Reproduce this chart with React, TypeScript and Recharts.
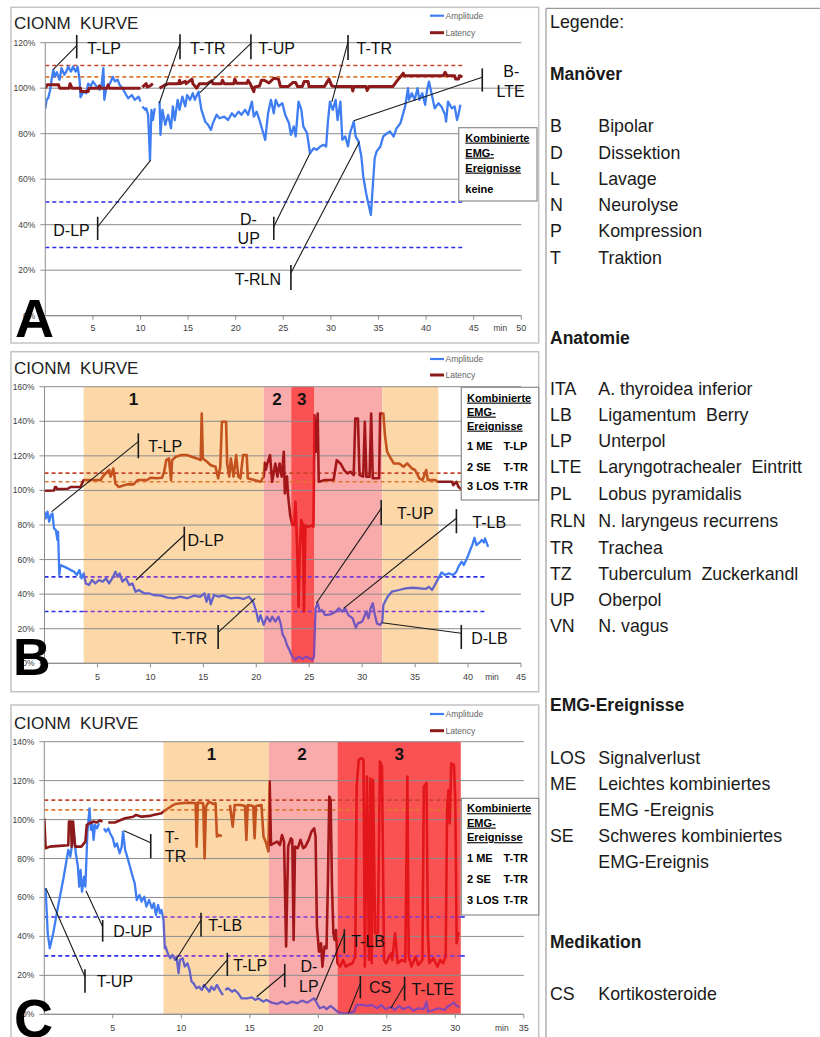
import React from 'react';
import {
  LineChart, Line, XAxis, YAxis, CartesianGrid,
  ReferenceLine, ReferenceArea, ReferenceDot,
} from 'recharts';

type Pt = [number, number | null];
type Kind = 'ME' | 'SE' | 'LOS';
type Region = [number, number, Kind];
type Note = { bar: [number, number, number]; from: [number, number]; to: [number, number]; labels: [string, number, number][]; anchor?: string };

const FONT = '"Liberation Sans", Arial, Helvetica, sans-serif';

// ---------------- Panel A data ----------------
const ampA: Pt[] = [
  [0, 91], [0.14, 95], [0.3, 95.6], [0.5, 99], [0.67, 104], [0.84, 108], [1.0, 105], [1.2, 107], [1.5, 103.7], [1.7, 108.8],
  [2.0, 105.9], [2.2, 107.3], [2.4, 109.5], [2.7, 107.3], [2.9, 109.5], [3.2, 107.3], [3.4, 109.5], [3.6, 103.7], [3.7, 96], [4.0, 98.5],
  [4.3, 97.8], [4.5, 102], [4.8, 101], [5.0, 103], [5.4, 100.7], [5.7, 99.3], [5.9, 100.7], [6.1, 108.8], [6.2, 94.9], [6.4, 100],
  [6.8, 102.2], [7.1, 105], [7.3, 103], [7.6, 103.7], [7.8, 101.5], [8.1, 100], [8.4, 97.8], [8.7, 95.6], [9.1, 97], [9.4, 94.9],
  [9.8, 96.3], [10.0, 94.1], [10.1, null], [10.2, 92], [10.5, 90.5], [10.6, 91.2], [10.8, 88.3], [11.0, 68.5], [11.15, 90.5], [11.3, 86],
  [11.5, 91.2], [11.6, null], [12.0, 94.1], [12.1, 79.5], [12.3, 90.5], [12.6, 83.9], [12.9, 88.3], [13.2, 82.4], [13.4, 92], [13.6, 86],
  [13.9, 94.9], [14.1, 90.5], [14.4, 96.3], [14.7, 92], [14.9, 97], [15.2, 94.9], [15.5, 97.8], [15.7, 94.9], [16.1, 98.5], [16.4, 90.5],
  [16.8, 85.3], [17.1, 83.9], [17.4, 81.7], [17.6, 84.6], [18.0, 88.3], [18.3, 86.8], [18.8, 87.5], [19.2, 86], [19.6, 89], [19.9, 87.5],
  [20.3, 89.7], [20.6, 88.3], [21.0, 90.5], [21.3, 88.3], [21.7, 94.1], [21.9, 87.5], [22.2, 89.7], [22.5, 86], [22.9, 80.2], [23.1, 77.3],
  [23.4, 89], [23.7, 94.9], [24.0, 89], [24.2, 94.9], [24.5, 92], [24.9, 93.4], [25.2, 88.3], [25.6, 84.6], [25.8, 79.5], [26.1, 83.2],
  [26.3, 78.8], [26.6, 94.1], [26.9, 90.5], [27.1, 83.2], [27.5, 80.2], [27.8, 71.4], [28.2, 73.6], [28.5, 72.9], [28.9, 74.4], [29.2, 75.1],
  [29.5, 74.4], [29.7, 86], [29.9, 94.1], [30.2, 90.5], [30.5, 94.9], [30.7, 86], [31.0, 94.1], [31.2, 77.3], [31.5, 78.8], [31.8, 74.4],
  [32.0, 80.2], [32.4, 85.3], [32.6, 78.8], [32.9, 76.6], [33.2, 70], [33.4, 61.2], [33.7, 53.8], [34.0, 48], [34.2, 44.3], [34.4, 56.8],
  [34.6, 69.2], [34.8, 72.2], [35.2, 74.4], [35.5, 78.8], [35.9, 80.2], [36.2, 81], [36.6, 78.8], [36.9, 82.4], [37.3, 84.6], [37.5, 87.5],
  [37.8, 92], [38.1, 100], [38.2, 94.9], [38.5, 97.8], [38.8, 94.9], [39.1, 100], [39.3, 94.9], [39.6, 97.8], [39.9, 92.7], [40.1, 99.3],
  [40.3, 102.9], [40.6, 97.1], [40.9, 91.2], [41.3, 93.4], [41.6, 92], [42.0, 88.3], [42.1, 85.3], [42.3, 94.1], [42.7, 91.2], [43.0, 92],
  [43.25, 86], [43.4, 88.3], [43.6, 92.7],
];
const latA: Pt[] = [
  [0, 100], [0.2, 101.5], [1.4, 101.5], [1.5, 100], [2.5, 100], [2.6, 102], [2.8, 100], [3.7, 100], [3.75, 98.5], [4.5, 98.5],
  [4.6, 100], [5.6, 100], [5.7, 101], [5.8, 100], [6.5, 100], [6.6, 101.5], [6.7, 100], [10.0, 100], [10.1, null], [10.2, 100.5],
  [10.6, 102], [10.7, 100.5], [11.0, 101], [11.3, 102], [11.4, null], [12.0, 100], [12.6, 101.5], [13.0, 102], [14.0, 102], [14.1, 103.5],
  [14.2, 102], [14.7, 103], [14.8, 102], [15.4, 104], [15.5, 102], [15.9, 100], [16.2, 102], [17.0, 102], [17.5, 103.3], [17.6, 102],
  [18.5, 102], [18.6, 103.5], [18.8, 102], [19.8, 102], [19.9, 104], [20.1, 102.2], [21.2, 102.2], [21.3, 103.5], [21.5, 102.2], [21.9, 98.5],
  [22.0, 100.5], [22.5, 101], [22.7, 103.5], [23.0, 103.5], [23.5, 102.3], [24.0, 104.4], [24.5, 104], [24.7, 100.7], [25.5, 100.7], [26.0, 102.5],
  [26.3, 102.5], [26.5, 100.7], [27.0, 100.7], [27.2, 103], [27.6, 103], [27.7, 100.7], [29.3, 100.7], [29.5, 102], [29.8, 104], [30.1, 101],
  [30.5, 100.7], [32.2, 100.7], [32.3, 98.8], [32.4, 100.7], [33.7, 100.7], [33.8, 99], [34.0, 100.7], [36.5, 100.7], [36.9, 103], [37.3, 105],
  [37.6, 106.6], [37.7, 105.5], [41.8, 105.5], [42.0, 107], [42.2, 105.5], [43.0, 105.5], [43.1, 104], [43.4, 104], [43.5, 105.5], [43.8, 105],
];

// ---------------- Panel B data ----------------
const ampB: Pt[] = [
  [0, 87.7], [0.12, 83.8], [0.28, 87.7], [0.44, 81.9], [0.6, 85.7], [0.75, 86.7], [0.9, 78], [1.07, 77.1], [1.22, 71.3], [1.28, 76.1],
  [1.4, 51.1], [1.5, 56.8], [1.85, 55.9], [2.2, 54.9], [2.5, 53.9], [2.8, 53], [3.05, 51.1], [3.3, 53.9], [3.5, 49.1], [3.7, 52],
  [3.9, 46.2], [4.2, 45.3], [4.5, 48.2], [4.8, 46.2], [5.15, 48.2], [5.5, 47.2], [5.8, 49.1], [6.1, 46.2], [6.4, 49.1], [6.7, 53],
  [6.9, 50.1], [7.1, 52], [7.35, 47.2], [7.7, 49.1], [8.0, 45.3], [8.3, 46.2], [8.6, 41.4], [8.9, 42.4], [9.4, 40.5], [9.85, 40.5],
  [10.3, 39.5], [11.0, 39.1], [11.6, 38], [12.2, 37.6], [12.85, 38.5], [13.5, 37.6], [14.1, 39.1], [14.7, 38.5], [15.1, 40.5], [15.3, 35.6],
  [15.5, 39.9], [15.7, 34.1], [16.0, 39.5], [16.45, 38.5], [16.9, 39.1], [17.6, 37.6], [18.2, 38], [18.8, 37.2], [19.3, 38.5], [19.7, 35.6],
  [20.0, 29.9], [20.2, 24.1], [20.4, 27.9], [20.7, 22.2], [21.0, 27], [21.3, 24.1], [21.5, 27], [21.8, 24.1], [22.1, 27], [22.3, 23.1],
  [22.5, 16.4], [22.7, 14.5], [22.9, 10.6], [23.2, 6.7], [23.4, 3.9], [23.7, 1.9], [24.0, 3.9], [24.4, 2.5], [24.7, 3.9], [25.0, 2.9],
  [25.3, 1.9], [25.45, 3.9], [25.6, 31.8], [25.8, 34.7], [26.0, 29.9], [26.2, 30.8], [26.5, 27.9], [27.0, 28.3], [27.5, 29.9], [27.8, 31.8],
  [28.1, 29.9], [28.4, 31.8], [28.7, 27.9], [29.1, 26], [29.4, 20.6], [29.6, 23.1], [30.0, 24.1], [30.2, 27], [30.4, 29.9], [30.6, 26],
  [30.8, 31.8], [31.0, 34.7], [31.2, 27.9], [31.4, 23.1], [31.7, 22.2], [31.9, 24.1], [32.0, 33.7], [32.4, 38.5], [32.8, 41.4], [33.5, 42.4],
  [34.1, 43.4], [34.7, 43.7], [35.4, 43.4], [36.0, 43], [36.3, 44.3], [36.6, 42.4], [36.9, 45.7], [37.2, 49.1], [37.5, 52.6], [37.8, 51.1],
  [38.2, 52], [38.6, 51.1], [38.9, 53], [39.1, 55.9], [39.4, 58.8], [39.6, 56.8], [39.9, 60.7], [40.2, 65.5], [40.4, 68.4], [40.6, 72.6],
  [40.8, 68.4], [41.1, 69.9], [41.3, 71.3], [41.5, 69.9], [41.6, 72.3], [41.9, 67.4],
];
const latB: Pt[] = [
  [0, 99.8], [0.9, 100], [1.0, 102], [1.1, 102], [1.2, 100.8], [2.2, 101], [2.5, 102], [3.4, 102], [3.7, 106], [5.3, 106],
  [5.5, 108], [5.8, 110], [6.1, 111.8], [6.25, 108], [6.5, 112.7], [6.7, 104], [7.0, 102], [7.8, 103.5], [8.4, 103.5], [8.8, 106],
  [9.7, 106], [10.0, 107.3], [10.6, 107], [11.1, 107.3], [11.3, 110.8], [11.5, 117.5], [11.75, 118.5], [11.95, 106], [12.05, 117.5], [12.4, 119.5],
  [12.85, 120.4], [13.5, 120.4], [13.9, 119.5], [14.4, 118.5], [14.75, 117.5], [14.85, 144.5], [14.95, 118.5], [15.35, 116.6], [15.7, 114.6], [16.15, 113.7],
  [16.4, 107], [16.6, 113.7], [16.75, 139.7], [17.15, 139.7], [17.25, 115.6], [17.45, 108], [17.6, 118.5], [17.85, 108], [18.1, 120.4], [18.3, 108],
  [18.5, 107], [18.75, 120.4], [19.1, 120.4], [19.2, 107], [19.8, 106], [20.4, 105], [20.7, 108], [20.8, 116], [20.9, 112], [21.0, 114.6],
  [21.3, 120.4], [21.5, 105], [21.8, 115.6], [22.0, 108], [22.2, 115.6], [22.4, 108], [22.6, 122.4], [22.7, 98.3], [22.9, 108], [23.0, 97.3],
  [23.2, 85.7], [23.4, 80], [23.6, 80], [23.7, 93.4], [23.85, 68.4], [24.0, 32.8], [24.1, 64.5], [24.25, 82.9], [24.4, 80], [24.5, 29.9],
  [24.65, 80], [24.9, 79], [25.3, 80], [25.4, 79], [25.5, 143.5], [25.65, 122.4], [25.8, 144.5], [25.9, 105], [26.5, 106], [27.3, 106],
  [27.6, 117.5], [27.95, 115.6], [28.3, 111.8], [28.6, 109.8], [28.9, 110.8], [29.2, 108.9], [29.35, 141.6], [29.6, 141.6], [29.75, 108.9], [30.1, 108],
  [30.25, 139.7], [30.4, 108], [30.7, 108], [30.85, 144.5], [31.0, 107], [31.6, 107], [31.7, 144.5], [32.0, 144.5], [32.15, 132], [32.35, 122.4],
  [32.7, 118.5], [33.0, 115.6], [33.5, 115.6], [33.9, 113.7], [34.25, 115.6], [34.7, 112.7], [35.0, 111.8], [35.4, 107], [35.7, 106], [36.05, 111.8],
  [36.2, 106], [36.9, 106], [37.1, 105], [38.5, 105], [38.6, 103], [38.9, 105], [39.1, 102], [39.5, 100],
];

// ---------------- Panel C data ----------------
const ampC: Pt[] = [
  [0, 64.7], [0.1, 63.9], [0.25, 41.6], [0.4, 33.9], [0.65, 41.6], [1.0, 55.3], [1.4, 69.9], [1.75, 84.4], [1.9, 81], [2.15, 93],
  [2.3, 82.7], [2.45, 75.9], [2.55, 65.6], [2.65, 74.1], [2.75, 63], [2.9, 70.7], [3.0, 65.6], [3.15, 93.8], [3.3, 105.8], [3.4, 94.7],
  [3.5, 98.1], [3.6, 89.6], [3.7, 97.3], [3.85, 95.5], [4.0, 98.1], [4.15, null], [4.35, 95.5], [4.5, 93.8], [4.67, 95.5], [4.8, 93],
  [5.0, 90.4], [5.15, 86.1], [5.3, 87.8], [5.5, 82.7], [5.65, 86.1], [5.75, 93.8], [5.9, 84.4], [6.05, 81], [6.25, 75.9], [6.45, 70.7],
  [6.6, 67.3], [6.75, 58.7], [6.95, 61.3], [7.1, 57.9], [7.3, 60.4], [7.45, 55.3], [7.65, 58.7], [7.85, 54.5], [8.0, 57], [8.15, 51],
  [8.3, 56.2], [8.45, 51.9], [8.55, 53.6], [8.7, 48.5], [8.8, 33.9], [8.85, 34.8], [9.05, 30.5], [9.2, 28.8], [9.35, 30.5], [9.55, 27.9],
  [9.65, 29.6], [9.8, 21.1], [9.9, 27.9], [10.1, 28.8], [10.25, 24.5], [10.45, 26.2], [10.6, 22.8], [10.75, 16.8], [10.9, 15.9], [11.1, 13.4],
  [11.3, 14.2], [11.5, 12.5], [11.65, 15.1], [11.85, 13.4], [12.05, 11.6], [12.2, 14.2], [12.4, 12.5], [12.6, 15.1], [12.8, 12.5], [12.95, 10.8],
  [13.05, 9.9], [13.12, null], [13.2, 12.5], [13.4, 13.4], [13.7, 11.6], [13.9, 12.5], [14.15, 10.8], [14.4, 8.2], [14.8, 8.2], [15.15, 8.7],
  [15.4, 7.4], [15.6, 8.2], [16.0, 6.5], [16.2, 7.4], [16.6, 6], [17.0, 5.3], [17.35, 6.5], [17.7, 5.3], [18.1, 6.5], [18.45, 5.7],
  [18.8, 7], [19.2, 6], [19.5, 7.4], [19.7, 8.2], [19.9, 5.7], [20.1, 3.1], [20.4, 3.9], [20.6, 2.6], [20.9, 4.3], [21.1, 3.1],
  [21.4, 1.4], [21.7, 0.5], [22.2, 0.5], [22.6, 1.4], [22.8, 4.8], [23.2, 4.8], [23.6, 4.3], [23.9, 4.8], [24.3, 3.1], [24.6, 4.8],
  [24.9, 2.6], [25.3, 3.9], [25.6, 2.2], [25.9, 4.3], [26.2, 2.6], [26.6, 3.9], [26.95, 1.9], [27.3, 3.1], [27.7, 2.6], [27.9, 6.5],
  [28.0, 1.4], [28.4, 2.2], [28.8, 3.1], [29.2, 2.2], [29.5, 4.3], [29.9, 6], [30.1, 4.3], [30.3, 3.6],
];
const latC: Pt[] = [
  [0, 100.7], [0.1, 85.3], [0.4, 86.1], [1.1, 86.5], [1.75, 86.8], [1.8, 99], [1.95, 99], [2.0, 86.1], [2.1, 99], [2.25, 86.1],
  [2.7, 86.1], [3.0, 88.7], [3.1, 97.3], [3.3, 98.1], [3.6, 99], [3.8, 98.5], [4.05, 99.5], [4.25, 99], [4.4, null], [4.67, 98.5],
  [5.15, 98.5], [5.5, 99.5], [5.9, 100.7], [6.5, 101.5], [6.7, 102.4], [7.1, 101.5], [7.7, 101.9], [7.95, 102.4], [8.3, 102.9], [8.55, 103.3],
  [8.8, 104.6], [9.05, 105.8], [9.3, 107], [9.55, 108], [10.0, 108.4], [10.5, 108.7], [11.05, 108.4], [11.12, 86.1], [11.2, 108.7], [11.6, 108.4],
  [11.7, 80.1], [11.8, 106.7], [12.0, 109.2], [12.35, 108], [12.5, 108.4], [12.6, 91.3], [12.8, 92.1], [12.95, 91.3], [13.2, null], [13.55, 107.5],
  [13.75, 96.4], [13.9, 107.5], [14.3, 107.5], [14.65, 107], [14.75, 89.6], [14.85, 107.5], [15.25, 107], [15.35, 90.4], [15.45, 107], [15.85, 107.5],
  [16.0, 91.3], [16.2, 87.8], [16.35, 83.6], [16.45, 119.5], [16.55, 87], [16.75, 87.8], [17.0, 88.7], [17.2, 87], [17.35, 92.1], [17.5, 88.7],
  [17.65, 34.8], [17.8, 86.1], [18.0, 90.4], [18.1, 89.6], [18.2, 38.2], [18.3, 86.1], [18.5, 85.3], [18.7, 89.6], [18.9, 85.3], [19.05, 86.1],
  [19.3, 89.6], [19.5, 93.8], [19.7, 95.5], [19.8, 91.3], [19.9, 45], [20.05, 32.2], [20.2, 36.5], [20.3, 24.5], [20.45, 34.8], [20.6, 33.9],
  [20.7, 67.3], [20.8, 111.8], [20.9, 110.1], [21.0, 65.6], [21.1, 41.6], [21.2, 38.2], [21.3, 43.3], [21.4, 26.2], [21.6, 24.5], [21.8, 27.9],
  [22.0, 24.5], [22.2, 25.3], [22.5, 26.2], [22.7, 29.6], [22.8, 116.9], [22.95, 130.7], [23.2, 131.5], [23.3, 130.7], [23.4, 24.5], [23.55, 122.1],
  [23.7, 27.9], [23.8, 121.2], [23.9, 26.2], [24.0, 120.4], [24.15, 41.6], [24.35, 41.6], [24.5, 129.8], [24.65, 127.2], [24.8, 27.9], [24.95, 26.2],
  [25.3, 31.3], [25.4, 27.9], [25.6, 41.6], [25.8, 26.2], [26.1, 27.9], [26.35, 27.1], [26.5, 122.1], [26.6, 29.6], [26.8, 24.5], [27.1, 29.6],
  [27.3, 25.3], [27.6, 27.9], [27.7, 116.9], [27.9, 118.7], [28.0, 41.6], [28.1, 26.2], [28.4, 28.8], [28.7, 24.5], [28.9, 27.9], [29.1, 26.2],
  [29.3, 29.6], [29.4, 105], [29.5, 115.2], [29.6, 98.1], [29.7, 128.9], [29.9, 128.1], [30.0, 110.1], [30.1, 36.5], [30.2, 41.6], [30.3, 40.8],
];

// EMG event regions (minutes) and their numbers
const regionsB: Region[] = [[3.7, 20.7, 'ME'], [20.7, 23.3, 'SE'], [23.3, 25.5, 'LOS'], [25.5, 31.9, 'SE'], [31.9, 37.2, 'ME']];
const regionsC: Region[] = [[8.7, 16.4, 'ME'], [16.4, 21.4, 'SE'], [21.4, 30.4, 'LOS']];
const numsB: [string, number, number][] = [['1', 8.4, 152.9], ['2', 21.95, 152.9], ['3', 24.3, 152.9]];
const numsC: [string, number, number][] = [['1', 12.2, 133.7], ['2', 18.8, 133.7], ['3', 25.9, 133.7]];

// Manoeuvre annotations (minutes, percent)
const notesA: Note[] = [
  { bar: [3.3, 123.4, 113.1], from: [3.3, 118.7], to: [0.84, 108.3], labels: [['T-LP', 4.4, 117.8]] },
  { bar: [14.15, 123.7, 112.7], from: [14.15, 119.7], to: [11.97, 93.4], labels: [['T-TR', 15.2, 117.8]] },
  { bar: [21.6, 123.7, 112.7], from: [21.6, 119.7], to: [16.25, 98.1], labels: [['T-UP', 22.4, 117.8]] },
  { bar: [31.8, 123.4, 112.4], from: [31.8, 120.4], to: [30.1, 94], labels: [['T-TR', 32.7, 117.8]] },
  { bar: [45.9, 108.7, 98.5], from: [45.9, 104.8], to: [32.4, 85.7], labels: [['B-', 48.1, 107.3], ['LTE', 47.4, 98.5]] },
  { bar: [5.5, 43.5, 33.3], from: [5.5, 39.1], to: [11.07, 68.4], labels: [['D-LP', 0.84, 37.4]] },
  { bar: [24.0, 43.5, 33.3], from: [24.0, 39.1], to: [27.8, 71.4], labels: [['D-', 20.45, 42.4], ['UP', 20.2, 34]] },
  { bar: [25.8, 22.3, 11.3], from: [25.8, 18.8], to: [33.0, 76.5], labels: [['T-RLN', 19.9, 16]] },
];
const notesB: Note[] = [
  { bar: [8.86, 133, 118.6], from: [8.86, 128.2], to: [0.68, 87.7], labels: [['T-LP', 9.8, 125.3]] },
  { bar: [13.2, 79, 65], from: [13.2, 74.2], to: [8.64, 48.2], labels: [['D-LP', 13.5, 71.3]] },
  { bar: [16.4, 22.2, 8.3], from: [16.4, 17.9], to: [19.9, 37.6], labels: [['T-TR', 15.37, 14.5]], anchor: 'end' },
  { bar: [31.8, 94.4, 80], from: [31.8, 89.6], to: [25.67, 34.7], labels: [['T-UP', 33.3, 86.8]] },
  { bar: [38.9, 89.2, 75.2], from: [38.9, 83.9], to: [28.25, 31.8], labels: [['T-LB', 40.4, 81.9]] },
  { bar: [39.36, 22.2, 8.3], from: [39.36, 17.4], to: [31.87, 23.5], labels: [['D-LB', 40.3, 14.5]] },
];
const notesC: Note[] = [
  { bar: [7.77, 92.6, 80.1], from: [7.77, 88.1], to: [5.82, 94.3], labels: [['T-', 8.8, 91.2], ['TR', 8.8, 81.3]] },
  { bar: [4.26, 48.4, 37.3], from: [4.26, 45], to: [3.04, 63.5], labels: [['D-UP', 5.04, 42.9]] },
  { bar: [2.97, 23.1, 11.1], from: [2.97, 19.3], to: [0.12, 64.7], labels: [['T-UP', 3.82, 17.1]] },
  { bar: [11.44, 52.2, 39.9], from: [11.44, 48.4], to: [9.6, 27.9], labels: [['T-LB', 11.97, 45.9]] },
  { bar: [13.36, 31.6, 19.7], from: [13.36, 27.9], to: [11.6, 13.9], labels: [['T-LP', 13.8, 25.3]] },
  { bar: [17.55, 25.8, 13.9], from: [17.55, 21.1], to: [15.5, 9], labels: [['D-', 18.7, 24.8], ['LP', 18.6, 14.5]] },
  { bar: [21.9, 43.7, 31.3], from: [21.9, 41.6], to: [19.85, 7.3], labels: [['T-LB', 22.4, 37.3]] },
  { bar: [23.07, 19.7, 8.2], from: [23.07, 15.9], to: [22.2, 0.5], labels: [['CS', 23.7, 13.9]] },
  { bar: [26.3, 19.3, 7], from: [26.3, 15], to: [25.3, 3.1], labels: [['T-LTE', 26.8, 12.8]] },
];

const kombA = ['keine'];
const kombB: [string, string][] = [['1 ME', 'T-LP'], ['2 SE', 'T-TR'], ['3 LOS', 'T-TR']];
const kombC: [string, string][] = [['1 ME', 'T-TR'], ['2 SE', 'T-TR'], ['3 LOS', 'T-TR']];

const legendRows: [string, string, number, boolean][] = [
  ['Legende:', '', 28.1, false],
  ['Manöver', '', 80.3, true],
  ['B', 'Bipolar', 132.4, false], ['D', 'Dissektion', 158.7, false], ['L', 'Lavage', 185.2, false],
  ['N', 'Neurolyse', 211.4, false], ['P', 'Kompression', 237.4, false], ['T', 'Traktion', 264, false],
  ['Anatomie', '', 344.1, true],
  ['ITA', 'A. thyroidea inferior', 394.7, false], ['LB', 'Ligamentum  Berry', 421.2, false], ['LP', 'Unterpol', 447.4, false],
  ['LTE', 'Laryngotrachealer  Eintritt', 473.3, false], ['PL', 'Lobus pyramidalis', 499.7, false], ['RLN', 'N. laryngeus recurrens', 526.5, false],
  ['TR', 'Trachea', 553.7, false], ['TZ', 'Tuberculum  Zuckerkandl', 579.7, false], ['UP', 'Oberpol', 605.7, false], ['VN', 'N. vagus', 632.4, false],
  ['EMG-Ereignisse', '', 711.4, true],
  ['LOS', 'Signalverlust', 763.7, false], ['ME', 'Leichtes kombiniertes', 790.4, false], ['', 'EMG -Ereignis', 816.4, false],
  ['SE', 'Schweres kombiniertes', 842.4, false], ['', 'EMG-Ereignis', 868.1, false],
  ['Medikation', '', 948.1, true],
  ['CS', 'Kortikosteroide', 999.7, false],
];

// ---------------- styling ----------------
const REGION_FILL: Record<Kind, string> = { ME: '#fcd8a9', SE: '#f9abab', LOS: '#fa5252' };
const AMP_TINT: Record<Kind, string> = { ME: '#6462c8', SE: '#7257be', LOS: '#8a46b0' };
const LAT_TINT: Record<Kind, string> = { ME: '#c4521f', SE: '#a3171a', LOS: '#e3161b' };
const AMP = '#3f7ef2';
const LAT = '#8d1a1a';
const GRID = '#8c8c8c';

const rows = (pts: Pt[]) => pts.map(([t, v]) => ({ t, v }));

function gradStops(series: Pt[], regions: Region[], base: string, tint: Record<Kind, string>) {
  const ts = series.filter((p) => p[1] !== null).map((p) => p[0]);
  const t0 = Math.min(...ts);
  const t1 = Math.max(...ts);
  const f = (t: number) => Math.max(0, Math.min(1, (t - t0) / (t1 - t0)));
  const out: { o: number; c: string }[] = [];
  let cur = 0;
  for (const [a, b, k] of regions) {
    const oa = f(a), ob = f(b);
    if (oa > cur) out.push({ o: cur, c: base }, { o: oa, c: base });
    out.push({ o: oa, c: tint[k] }, { o: ob, c: tint[k] });
    cur = ob;
  }
  if (cur < 1) out.push({ o: cur, c: base }, { o: 1, c: base });
  return out;
}

function dashSegments(end: number, regions: Region[]) {
  if (!regions.length) return [[0, end, false]] as [number, number, boolean][];
  const a = regions[0][0];
  const b = regions[regions.length - 1][1];
  const segs: [number, number, boolean][] = [[0, a, false], [a, Math.min(b, end), true]];
  if (b < end) segs.push([b, end, false]);
  return segs;
}

const textShape = (txt: string, size: number, weight: number | string, anchor: string, dy: number, fill = '#111') =>
  (p: any) => (
    <text x={p.cx} y={p.cy} dy={dy} textAnchor={anchor} fontSize={size} fontWeight={weight} fontFamily={FONT} fill={fill}>
      {txt}
    </text>
  );

type PanelCfg = {
  id: string; top: number; height: number; margin: { top: number; right: number; bottom: number; left: number };
  yw: number; xMax: number; yMax: number; tickMargin: number; amp: Pt[]; lat: Pt[]; regions: Region[];
  notes: Note[]; nums: [string, number, number][]; minT: number; minOff: number; dashEnd: number; latWidth: number;
};

const panels: PanelCfg[] = [
  { id: 'A', top: 0, height: 345, margin: { top: 42.7, right: 18.7, bottom: 9.3, left: 0 }, yw: 45.3, xMax: 50, yMax: 120, tickMargin: 5,
    amp: ampA, lat: latA, regions: [], notes: notesA, nums: [], minT: 47.8, minOff: 15.5, dashEnd: 44, latWidth: 3 },
  { id: 'B', top: 345, height: 355, margin: { top: 41.7, right: 19, bottom: 16.7, left: 0 }, yw: 44.5, xMax: 45, yMax: 160, tickMargin: 6,
    amp: ampB, lat: latB, regions: regionsB, notes: notesB, nums: numsB, minT: 42.26, minOff: 17, dashEnd: 41.6, latWidth: 2.6 },
  { id: 'C', top: 700, height: 337, margin: { top: 41.7, right: 16.2, bottom: 2.7, left: 0 }, yw: 44.3, xMax: 35, yMax: 140, tickMargin: 6.5,
    amp: ampC, lat: latC, regions: regionsC, notes: notesC, nums: numsC, minT: 33.4, minOff: 16.5, dashEnd: 30.7, latWidth: 2.6 },
];

const range = (a: number, b: number, s: number) => {
  const r: number[] = [];
  for (let v = a; v <= b + 1e-9; v += s) r.push(v);
  return r;
};

function Panel({ cfg }: { cfg: PanelCfg }) {
  const ampStops = gradStops(cfg.amp, cfg.regions, AMP, AMP_TINT);
  const latStops = gradStops(cfg.lat, cfg.regions, LAT, LAT_TINT);
  const segs = dashSegments(cfg.dashEnd, cfg.regions);
  const tick = { fontSize: 8.5, fill: '#404040', fontFamily: FONT };
  return (
    <div style={{ position: 'absolute', left: 0, top: cfg.top }}>
      <LineChart width={540} height={cfg.height} margin={cfg.margin}>
        <defs>
          <linearGradient id={`amp${cfg.id}`} x1="0" y1="0" x2="1" y2="0">
            {ampStops.map((s, i) => <stop key={i} offset={s.o} stopColor={s.c} />)}
          </linearGradient>
          <linearGradient id={`lat${cfg.id}`} x1="0" y1="0" x2="1" y2="0">
            {latStops.map((s, i) => <stop key={i} offset={s.o} stopColor={s.c} />)}
          </linearGradient>
        </defs>
        {cfg.regions.map(([a, b, k], i) => (
          <ReferenceArea key={`r${i}`} x1={a} x2={b} y1={0} y2={cfg.yMax} fill={REGION_FILL[k]} fillOpacity={1}
            stroke="none" ifOverflow="hidden" zIndex={-200} />
        ))}
        <CartesianGrid vertical={false} stroke={GRID} strokeWidth={1} />
        <XAxis type="number" dataKey="t" domain={[0, cfg.xMax]} ticks={range(5, cfg.xMax, 5)} allowDataOverflow
          height={20} tickSize={4} tickMargin={cfg.tickMargin} stroke={GRID} tick={{ ...tick, fontSize: 9 }} />
        <YAxis type="number" domain={[0, cfg.yMax]} ticks={range(0, cfg.yMax, 20)} allowDataOverflow width={cfg.yw}
          tickSize={5} tickMargin={5} stroke={GRID} tick={tick} tickFormatter={(v: number) => `${v}%`} />
        <ReferenceLine segment={[{ x: 0, y: 110 }, { x: cfg.dashEnd, y: 110 }]} stroke="#c8452a" strokeWidth={1.6} strokeDasharray="4 3" ifOverflow="visible" />
        <ReferenceLine segment={[{ x: 0, y: 105 }, { x: cfg.dashEnd, y: 105 }]} stroke="#e0782e" strokeWidth={1.6} strokeDasharray="4 3" ifOverflow="visible" />
        {segs.map(([a, b, shaded], i) => (
          <React.Fragment key={`d${i}`}>
            <ReferenceLine segment={[{ x: a, y: 50 }, { x: b, y: 50 }]} stroke={shaded ? '#7a3ad6' : '#2b2bea'} strokeWidth={1.6} strokeDasharray="4 3" ifOverflow="visible" />
            <ReferenceLine segment={[{ x: a, y: 30 }, { x: b, y: 30 }]} stroke={shaded ? '#7a3ad6' : '#2b2bea'} strokeWidth={1.6} strokeDasharray="4 3" ifOverflow="visible" />
          </React.Fragment>
        ))}
        <Line data={rows(cfg.amp)} dataKey="v" type="linear" stroke={`url(#amp${cfg.id})`} strokeWidth={2.3} dot={false}
          activeDot={false} connectNulls={false} isAnimationActive={false} strokeLinejoin="round" />
        <Line data={rows(cfg.lat)} dataKey="v" type="linear" stroke={`url(#lat${cfg.id})`} strokeWidth={cfg.latWidth} dot={false}
          activeDot={false} connectNulls={false} isAnimationActive={false} strokeLinejoin="round" />
        {cfg.notes.map((n, i) => (
          <React.Fragment key={`n${i}`}>
            <ReferenceLine segment={[{ x: n.bar[0], y: n.bar[1] }, { x: n.bar[0], y: n.bar[2] }]} stroke="#1a1a1a" strokeWidth={1.6} ifOverflow="visible" />
            <ReferenceLine segment={[{ x: n.from[0], y: n.from[1] }, { x: n.to[0], y: n.to[1] }]} stroke="#1a1a1a" strokeWidth={1.1} ifOverflow="visible" />
            {n.labels.map(([txt, x, y], j) => (
              <ReferenceDot key={`l${j}`} x={x} y={y} r={0} ifOverflow="visible"
                shape={textShape(txt, 16, 'normal', n.anchor || 'start', 5.8)} />
            ))}
          </React.Fragment>
        ))}
        {cfg.nums.map(([txt, x, y], i) => (
          <ReferenceDot key={`num${i}`} x={x} y={y} r={0} ifOverflow="visible" shape={textShape(txt, 17, 'bold', 'middle', 6)} />
        ))}
        <ReferenceDot x={cfg.minT} y={0} r={0} ifOverflow="visible" shape={textShape('min', 8.5, 'normal', 'middle', cfg.minOff, '#404040')} />
      </LineChart>
    </div>
  );
}

function Overlay() {
  const panelTops = [7.3, 351.7, 705];
  const titleBase = [29, 374.3, 729.3];
  const legY = [[15.7, 32.7], [359, 375], [714, 730.7]];
  const letters: [string, number, number, number][] = [['A', 15, 337, 54], ['B', 13, 675, 52], ['C', 14, 1036.5, 54]];
  const t = { fontFamily: FONT };
  return (
    <svg width={820} height={1037} style={{ position: 'absolute', left: 0, top: 0, pointerEvents: 'none' }}>
      {panelTops.map((y, i) => (
        <rect key={`p${i}`} x={11} y={y} width={527.7} height={i === 0 ? 335.7 : 340} fill="none" stroke="#c4c4c4" strokeWidth={1.5} />
      ))}
      {titleBase.map((y, i) => (
        <text key={`t${i}`} x={14} y={y} fontSize={17} fill="#222" style={{ whiteSpace: 'pre' }} {...t}>CIONM  KURVE</text>
      ))}
      {legY.map(([a, b], i) => (
        <g key={`lg${i}`}>
          <line x1={430} x2={444} y1={a} y2={a} stroke={AMP} strokeWidth={2.2} />
          <text x={445.5} y={a + 3} fontSize={8.5} fill="#666" {...t}>Amplitude</text>
          <line x1={430} x2={444} y1={b} y2={b} stroke={LAT} strokeWidth={3} />
          <text x={445.5} y={b + 3} fontSize={8.5} fill="#666" {...t}>Latency</text>
        </g>
      ))}
      <g>
        <rect x={458.7} y={127.7} width={78.3} height={73.3} fill="#fff" stroke="#8c8c8c" strokeWidth={1.2} />
        <text x={465.3} y={141.6} fontSize={11} fontWeight="bold" textDecoration="underline" {...t}>Kombinierte</text>
        <text x={465.3} y={156.6} fontSize={11} fontWeight="bold" textDecoration="underline" {...t}>EMG-</text>
        <text x={465.3} y={171.6} fontSize={11} fontWeight="bold" textDecoration="underline" {...t}>Ereignisse</text>
        {kombA.map((s, i) => <text key={i} x={465.3} y={193.2} fontSize={11} fontWeight="bold" {...t}>{s}</text>)}
      </g>
      {[{ y: 387.3, h: 112.7, base: [401.6, 415.6, 429.6], rows: [449.6, 470.6, 489.6], data: kombB },
        { y: 798.3, h: 116.7, base: [812.2, 826.6, 841.2], rows: [862.2, 883.2, 903.9], data: kombC }].map((k, i) => (
        <g key={`k${i}`}>
          <rect x={461.3} y={k.y} width={77.4} height={k.h} fill="#fff" stroke="#8c8c8c" strokeWidth={1.2} />
          {['Kombinierte', 'EMG-', 'Ereignisse'].map((s, j) => (
            <text key={j} x={467} y={k.base[j]} fontSize={11} fontWeight="bold" textDecoration="underline" {...t}>{s}</text>
          ))}
          {k.data.map(([a, b], j) => (
            <g key={`r${j}`}>
              <text x={467} y={k.rows[j]} fontSize={11} fontWeight="bold" {...t}>{a}</text>
              <text x={503.5} y={k.rows[j]} fontSize={11} fontWeight="bold" {...t}>{b}</text>
            </g>
          ))}
        </g>
      ))}
      {letters.map(([s, x, y, size]) => (
        <text key={s} x={x} y={y} fontSize={size} fontWeight="bold" fill="#000" {...t}>{s}</text>
      ))}
      <line x1={546} x2={546} y1={8.3} y2={1037} stroke="#9a9a9a" strokeWidth={1.2} />
      <line x1={546} x2={820} y1={8.3} y2={8.3} stroke="#9a9a9a" strokeWidth={1.2} />
      {legendRows.map(([a, b, y, bold], i) => (
        <g key={`lr${i}`}>
          {a && <text x={550} y={y} fontSize={bold ? 17.5 : 17.8} fontWeight={bold ? 'bold' : 'normal'} fill="#1a1a1a" {...t}>{a}</text>}
          {b && <text x={598.3} y={y} fontSize={17.8} fill="#1a1a1a" style={{ whiteSpace: 'pre' }} {...t}>{b}</text>}
        </g>
      ))}
    </svg>
  );
}

export default function App() {
  return (
    <div style={{ position: 'absolute', left: 0, top: 0, width: 820, height: 1037, background: '#fff', overflow: 'hidden' }}>
      {panels.map((p) => <Panel key={p.id} cfg={p} />)}
      <Overlay />
    </div>
  );
}
